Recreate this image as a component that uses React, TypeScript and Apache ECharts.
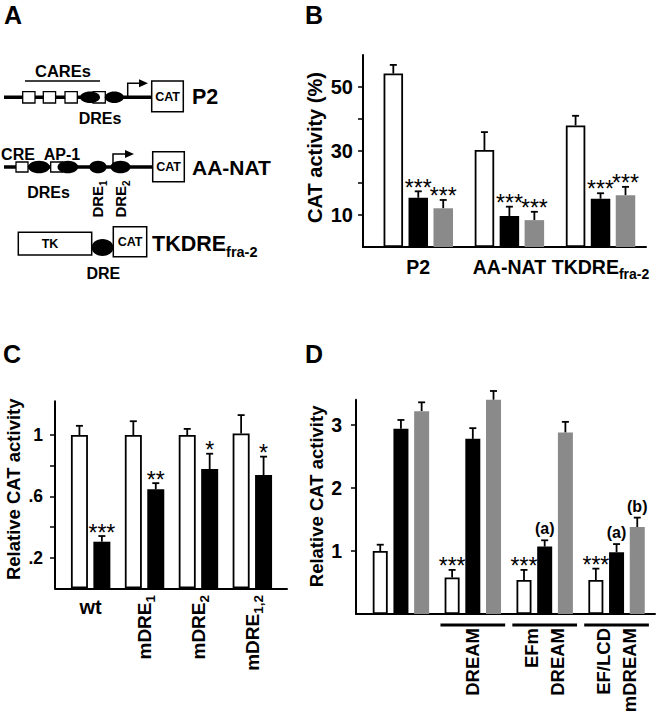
import React, { useEffect, useRef } from 'react';
import * as echarts from 'echarts';

const FONT = '"Liberation Sans", Arial, Helvetica, sans-serif';

// ---------- Panel B data ----------
const bCategories = ['P2', 'AA-NAT', 'TKDRE_fra-2'];
const bControl = [54.2, 30.3, 38.0];
const bControlErr = [2.7, 5.6, 3.0];
const bBlack = [15.4, 9.7, 15.1];
const bBlackErr = [2.0, 2.9, 1.7];
const bGray = [12.1, 8.4, 16.2];
const bGrayErr = [2.6, 2.6, 2.6];
const bBlackSig = ['***', '***', '***'];
const bGraySig = ['***', '***', '***'];
const bYTicks = [10, 20, 30, 40, 50];
const bYLabels = [10, 30, 50];

// ---------- Panel C data ----------
const cCategories = ['wt', 'mDRE_1', 'mDRE_2', 'mDRE_1,2'];
const cControl = [1.0, 1.0, 1.0, 1.01];
const cControlErr = [0.06, 0.09, 0.04, 0.12];
const cTreated = [0.304, 0.646, 0.778, 0.739];
const cTreatedErr = [0.037, 0.04, 0.1, 0.12];
const cSig = ['***', '**', '*', '*'];
const cYTicks = [0.2, 0.4, 0.6, 0.8, 1];
const cYLabels = [0.2, 0.6, 1];

// ---------- Panel D data ----------
const dCategories = ['', 'DREAM', 'EFm\nDREAM', 'EF/LCD\nmDREAM'];
const dWhite = [1.0, 0.58, 0.54, 0.54];
const dWhiteErr = [0.1, 0.12, 0.16, 0.18];
const dBlack = [2.94, 2.78, 1.07, 0.98];
const dBlackErr = [0.14, 0.17, 0.1, 0.13];
const dGray = [3.22, 3.4, 2.88, 1.38];
const dGrayErr = [0.14, 0.14, 0.17, 0.15];
const dWhiteSig = ['', '***', '***', '***'];
const dBlackSig = ['', '', '(a)', '(a)'];
const dGraySig = ['', '', '', '(b)'];
const dYTicks = [1, 2, 3];
const dUnderlined = [1, 2, 3];

// ---------- helpers ----------
const GRAY = '#8a8a8a';
const STAR = { fontSize: 23, fontWeight: 'normal', gap: 3.8 };
const PAREN = { fontSize: 16, fontWeight: 'bold', gap: 11.5 };

const subFmt = (v: string) => {
  const [m, s] = v.split('_');
  return s ? `{m|${m}}{s|${s}}` : `{m|${m}}`;
};
const richSub = (main: number, sub: number, lh: number) => ({
  m: { fontSize: main, fontWeight: 'bold', fontFamily: FONT, color: '#000', lineHeight: lh },
  s: { fontSize: sub, fontWeight: 'bold', fontFamily: FONT, color: '#000', lineHeight: 1, verticalAlign: 'bottom' },
});

function valueAxis(o: any) {
  return {
    type: 'value',
    gridIndex: o.grid,
    min: 0,
    max: o.max,
    offset: o.offset,
    axisLine: { show: true, onZero: false, lineStyle: { color: '#000', width: 2 } },
    axisTick: { show: true, length: 5, customValues: o.ticks, lineStyle: { color: '#000', width: 1.5 } },
    axisLabel: {
      show: true,
      customValues: o.labels,
      formatter: o.fmt,
      color: '#000',
      fontFamily: FONT,
      fontWeight: 'bold',
      fontSize: o.labelSize,
      margin: o.labelMargin,
    },
    splitLine: { show: false },
    name: o.name,
    nameLocation: 'middle',
    nameGap: o.nameGap,
    nameTextStyle: {
      color: '#000',
      fontFamily: FONT,
      fontWeight: 'bold',
      fontSize: o.nameSize,
      padding: [0, 0, 0, o.namePad],
    },
  };
}

function baseGrid(left: number, top: number, width: number, height: number) {
  return { left, top, width, height };
}
function baseX(grid: number) {
  return {
    type: 'value',
    gridIndex: grid,
    position: 'bottom',
    min: 0,
    max: 1,
    axisLine: { show: true, onZero: false, lineStyle: { color: '#000', width: 2 } },
    axisTick: { show: false },
    axisLabel: { show: false },
    splitLine: { show: false },
  };
}
function hiddenY(grid: number) {
  return { type: 'value', gridIndex: grid, min: 0, max: 1, show: false };
}

function bar(xi: number, yi: number, data: number[], kind: 'white' | 'black' | 'gray', width: number, gap: string) {
  const itemStyle =
    kind === 'white'
      ? { color: '#fff', borderColor: '#000', borderWidth: 1.8 }
      : { color: kind === 'black' ? '#000' : GRAY, borderWidth: 0 };
  return {
    type: 'bar',
    xAxisIndex: xi,
    yAxisIndex: yi,
    data,
    barWidth: width,
    barGap: gap,
    itemStyle,
    z: 3,
    silent: true,
  };
}

function errSeries(xi: number, yi: number, values: number[], errs: number[], offset: number, sigs?: string[], sig: any = STAR) {
  return {
    type: 'custom',
    xAxisIndex: xi,
    yAxisIndex: yi,
    clip: false,
    silent: true,
    z: 1,
    encode: { x: 0, y: 1 },
    data: values.map((v, i) => [i, v, errs[i]]),
    renderItem: (params: any, api: any) => {
      const i = api.value(0);
      const v = api.value(1);
      const e = api.value(2);
      const p0 = api.coord([i, v]);
      const p1 = api.coord([i, v + e]);
      const x = p0[0] + offset;
      const children: any[] = [
        { type: 'line', shape: { x1: x, y1: p0[1], x2: x, y2: p1[1] }, style: { stroke: '#000', lineWidth: 1.8 } },
        { type: 'line', shape: { x1: x - 3.5, y1: p1[1], x2: x + 3.5, y2: p1[1] }, style: { stroke: '#000', lineWidth: 1.8 } },
      ];
      const s = sigs ? sigs[params.dataIndex] : '';
      if (s) {
        children.push({
          type: 'text',
          x,
          y: p1[1] - sig.gap,
          style: {
            text: s,
            fontFamily: FONT,
            fontSize: sig.fontSize,
            fontWeight: sig.fontWeight,
            fill: '#000',
            align: 'center',
            verticalAlign: 'middle',
          },
        });
      }
      return { type: 'group', children };
    },
  };
}

// ---------- panel A schematic ----------
const txt = (text: string, x: number, y: number, size: number, align = 'center', extra: any = {}) => ({
  type: 'text',
  x,
  y,
  ...extra,
  style: { text, fontFamily: FONT, fontWeight: 'bold', fontSize: size, fill: '#000', align, verticalAlign: 'middle' },
});
const richTxt = (text: string, x: number, y: number, main: number, sub: number, lh: number, align = 'left', extra: any = {}) => ({
  type: 'text',
  x,
  y,
  ...extra,
  style: {
    text,
    align,
    verticalAlign: 'middle',
    rich: {
      m: { fontSize: main, fontWeight: 'bold', fontFamily: FONT, fill: '#000', lineHeight: lh },
      s: { fontSize: sub, fontWeight: 'bold', fontFamily: FONT, fill: '#000', lineHeight: 1, verticalAlign: 'bottom' },
    },
  },
});
const ln = (x1: number, y1: number, x2: number, y2: number, w: number) => ({
  type: 'line',
  shape: { x1, y1, x2, y2 },
  style: { stroke: '#000', lineWidth: w },
});
const box = (x: number, y: number, width: number, height: number, w = 1.5) => ({
  type: 'rect',
  shape: { x, y, width, height },
  style: { fill: '#fff', stroke: '#000', lineWidth: w },
});
const oval = (cx: number, cy: number, rx: number, ry: number) => ({
  type: 'ellipse',
  shape: { cx, cy, rx, ry },
  style: { fill: '#000' },
});
const arrow = (x: number, yBase: number, yTop: number, xTip: number) => [
  { type: 'polyline', shape: { points: [[x, yBase], [x, yTop], [xTip - 8, yTop]] }, style: { stroke: '#000', lineWidth: 1.5, fill: null } },
  { type: 'polygon', shape: { points: [[xTip - 9, yTop - 4], [xTip, yTop], [xTip - 9, yTop + 4]] }, style: { fill: '#000' } },
];

const schematic: any[] = [
  txt('A', 4, 15, 25, 'left'),
  txt('B', 305, 15, 25, 'left'),
  txt('C', 3, 353.5, 25, 'left'),
  txt('D', 305, 353.5, 25, 'left'),
  // P2 construct
  ln(4, 97.3, 152, 97.3, 3.5),
  txt('CAREs', 63, 71, 16.5),
  ln(25, 81, 100, 81, 1.5),
  box(22.7, 91.7, 12.3, 11.3, 1.3),
  box(43.3, 91.7, 12.3, 11.3, 1.3),
  box(65, 91.7, 12.3, 11.3, 1.3),
  box(93, 91.7, 12.3, 11.3, 1.3),
  oval(90, 97.3, 10, 5.8),
  oval(114.3, 97.3, 9.5, 5.8),
  ...arrow(127.7, 96.5, 83.3, 148),
  box(151.7, 81, 31.6, 30.7),
  txt('CAT', 167.5, 96.5, 12.5),
  txt('P2', 192, 97, 21.5, 'left'),
  txt('DREs', 100, 118.3, 16),
  // AA-NAT construct
  ln(4, 167, 152.7, 167, 3.5),
  txt('CRE', 18, 154.5, 16),
  txt('AP-1', 62, 154.5, 16),
  box(16, 162, 12, 10, 1.3),
  box(50.7, 162, 12, 10, 1.3),
  oval(39, 167, 10.8, 6.3),
  oval(67.8, 167, 10.3, 6.3),
  oval(98, 167, 8.7, 6.3),
  oval(120.5, 167, 10, 6.3),
  ...arrow(113, 166, 154, 134),
  box(152.7, 151.7, 31.6, 30),
  txt('CAT', 168.5, 166.5, 12.5),
  txt('AA-NAT', 192, 167, 21, 'left'),
  txt('DREs', 48.5, 192, 16),
  richTxt('{m|DRE}{s|1}', 97, 199, 15, 10, 22, 'center', { rotation: Math.PI / 2 }),
  richTxt('{m|DRE}{s|2}', 120, 199, 15, 10, 22, 'center', { rotation: Math.PI / 2 }),
  // TKDRE construct
  box(18.3, 232.3, 73.4, 22.7),
  txt('TK', 50, 243.5, 12.5),
  oval(102.5, 247.5, 11, 8.5),
  box(113.3, 226.7, 33.4, 30),
  txt('CAT', 130, 242, 12.5),
  richTxt('{m|TKDRE}{s|fra-2}', 152, 244, 21.5, 14.5, 30, 'left'),
  txt('DRE', 103.3, 273.3, 16),
];

// ---------- layout ----------
const B_BW = 19.5, B_GAP = 0.28;
const C_BW = 17, C_GAP = 0.32;
const D_BW = 15, D_GAP = 0.38;
const bStep = B_BW * (1 + B_GAP);
const cStep = C_BW * (1 + C_GAP);
const dStep = D_BW * (1 + D_GAP);

const option: any = {
  animation: false,
  backgroundColor: '#fff',
  textStyle: { fontFamily: FONT },
  grid: [
    { left: 372.7, top: 55, width: 273.4, height: 192 }, // 0 B
    baseGrid(363, 55, 283, 192), // 1 B baseline
    { left: 63.7, top: 401.3, width: 215.6, height: 187 }, // 2 C
    baseGrid(55, 401.3, 232, 187), // 3 C baseline
    { left: 365, top: 399.8, width: 287.5, height: 214.2 }, // 4 D
    baseGrid(356, 399.8, 299, 214.2), // 5 D baseline
  ],
  xAxis: [
    {
      type: 'category',
      gridIndex: 0,
      position: 'bottom',
      data: bCategories,
      axisLine: { show: false },
      axisTick: { show: false },
      axisLabel: { interval: 0, margin: 5, formatter: subFmt, rich: richSub(19.5, 14, 29) },
    },
    baseX(1),
    {
      type: 'category',
      gridIndex: 2,
      position: 'bottom',
      data: cCategories,
      axisLine: { show: false },
      axisTick: { show: false },
      axisLabel: {
        interval: 0,
        margin: 8.7,
        formatter: (v: string) => (v.includes('_') ? '' : v),
        color: '#000',
        fontFamily: FONT,
        fontWeight: 'bold',
        fontSize: 20,
        lineHeight: 20,
      },
    },
    {
      type: 'category',
      gridIndex: 2,
      position: 'bottom',
      data: cCategories,
      axisLine: { show: false },
      axisTick: { show: false },
      axisLabel: {
        interval: 0,
        rotate: 90,
        margin: 6.7,
        formatter: (v: string) => (v.includes('_') ? subFmt(v) : ''),
        rich: richSub(19, 13.5, 26),
      },
    },
    baseX(3),
    {
      type: 'category',
      gridIndex: 4,
      position: 'bottom',
      data: dCategories,
      axisLine: { show: false },
      axisTick: { show: false },
      axisLabel: {
        interval: 0,
        rotate: 90,
        margin: 14,
        color: '#000',
        fontFamily: FONT,
        fontWeight: 'bold',
        fontSize: 18.5,
        lineHeight: 26,
      },
    },
    baseX(5),
  ],
  yAxis: [
    valueAxis({
      grid: 0, max: 60, offset: 9.7, ticks: bYTicks, labels: bYLabels, fmt: (v: number) => String(v),
      labelSize: 20, labelMargin: 10, name: 'CAT activity (%)', nameSize: 20, nameGap: 38, namePad: 7,
    }),
    hiddenY(1),
    valueAxis({
      grid: 2, max: 1.22, offset: 8.7, ticks: cYTicks, labels: cYLabels,
      fmt: (v: number) => (v === 1 ? '1' : String(v).replace(/^0/, '')),
      labelSize: 17.5, labelMargin: 12, name: 'Relative CAT activity', nameSize: 18.5, nameGap: 32, namePad: 11,
    }),
    hiddenY(3),
    valueAxis({
      grid: 4, max: 3.4, offset: 9, ticks: dYTicks, labels: dYTicks, fmt: (v: number) => String(v),
      labelSize: 19.5, labelMargin: 14, name: 'Relative CAT activity', nameSize: 18.5, nameGap: 30, namePad: 21,
    }),
    hiddenY(5),
  ],
  series: [
    // Panel B
    bar(0, 0, bControl, 'white', B_BW, `${B_GAP * 100}%`),
    bar(0, 0, bBlack, 'black', B_BW, `${B_GAP * 100}%`),
    bar(0, 0, bGray, 'gray', B_BW, `${B_GAP * 100}%`),
    errSeries(0, 0, bControl, bControlErr, -bStep),
    errSeries(0, 0, bBlack, bBlackErr, 0, bBlackSig),
    errSeries(0, 0, bGray, bGrayErr, bStep, bGraySig),
    // Panel C
    bar(2, 2, cControl, 'white', C_BW, `${C_GAP * 100}%`),
    bar(2, 2, cTreated, 'black', C_BW, `${C_GAP * 100}%`),
    errSeries(2, 2, cControl, cControlErr, -cStep / 2),
    errSeries(2, 2, cTreated, cTreatedErr, cStep / 2, cSig, { ...STAR, gap: 3.5 }),
    // Panel D
    bar(5, 4, dWhite, 'white', D_BW, `${D_GAP * 100}%`),
    bar(5, 4, dBlack, 'black', D_BW, `${D_GAP * 100}%`),
    bar(5, 4, dGray, 'gray', D_BW, `${D_GAP * 100}%`),
    errSeries(5, 4, dWhite, dWhiteErr, -dStep, dWhiteSig),
    errSeries(5, 4, dBlack, dBlackErr, 0, dBlackSig, PAREN),
    errSeries(5, 4, dGray, dGrayErr, dStep, dGraySig, PAREN),
    {
      type: 'custom',
      xAxisIndex: 5,
      yAxisIndex: 4,
      clip: false,
      silent: true,
      encode: { x: 0, y: 1 },
      data: dUnderlined.map((i) => [i, 0]),
      renderItem: (_p: any, api: any) => {
        const p = api.coord([api.value(0), 0]);
        const w = api.size([1, 0])[0] * 0.9;
        return {
          type: 'line',
          shape: { x1: p[0] - w / 2, y1: p[1] + 11, x2: p[0] + w / 2, y2: p[1] + 11 },
          style: { stroke: '#000', lineWidth: 2.8 },
        };
      },
    },
  ],
  graphic: { elements: schematic },
};

export default function App() {
  const ref = useRef<HTMLDivElement>(null);
  useEffect(() => {
    document.body.style.margin = '0';
    const chart = echarts.init(ref.current as HTMLDivElement, null, { renderer: 'svg' });
    chart.setOption(option);
    return () => chart.dispose();
  }, []);
  return <div ref={ref} style={{ width: 660, height: 719 }} />;
}
